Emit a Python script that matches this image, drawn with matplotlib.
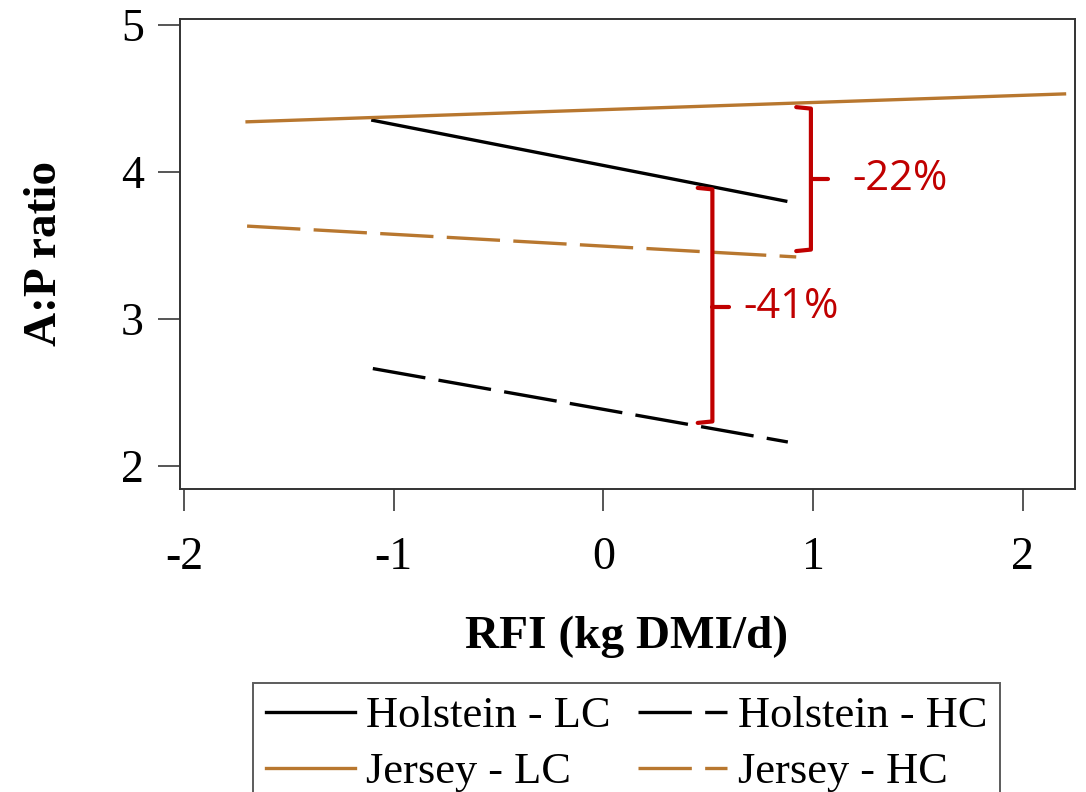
import numpy as np
import matplotlib
matplotlib.use("Agg")
import matplotlib.pyplot as plt

# RFI range and fitted A:P ratio at each end of the lines
hol_lc_x = [-1.1, 0.87]
hol_lc_y = [4.35, 3.80]
hol_hc_x = [-1.1, 0.88]
hol_hc_y = [2.66, 2.16]
jer_lc_x = [-1.7, 2.2]
jer_lc_y = [4.34, 4.53]
jer_hc_x = [-1.7, 0.92]
jer_hc_y = [3.63, 3.42]

# brackets: x, bottom, top, middle, label
brackets = [
    (0.99, 3.46, 4.44, 3.95, "-22%"),
    (0.52, 2.29, 3.89, 3.08, "-41%"),
]

xticks = [-2, -1, 0, 1, 2]
yticks = [2, 3, 4, 5]

brown = "#b8772f"
red = "#c00000"
serif = ["Liberation Serif", "DejaVu Serif"]

fig = plt.figure(figsize=(10.86, 7.92), dpi=100)
ax = fig.add_axes([180 / 1086, 1 - 489 / 792, 895 / 1086, 470 / 792])

lw = 2.4
dash = (0, (16, 4))
h1, = ax.plot(hol_lc_x, hol_lc_y, color="black", lw=lw, label="Holstein - LC")
h2, = ax.plot(hol_hc_x, hol_hc_y, color="black", lw=lw, ls=dash, label="Holstein - HC")
h3, = ax.plot(jer_lc_x, jer_lc_y, color=brown, lw=lw, label="Jersey - LC")
h4, = ax.plot(jer_hc_x, jer_hc_y, color=brown, lw=lw, ls=dash, label="Jersey - HC")

for bx, lo, hi, mid, txt in brackets:
    hook = 0.07
    nub = 0.08
    ax.plot([bx - hook, bx, bx, bx - hook], [lo, lo + 0.01, hi - 0.01, hi],
            color=red, lw=3, solid_joinstyle="round", solid_capstyle="round")
    ax.plot([bx, bx + nub], [mid, mid], color=red, lw=3, solid_capstyle="round")
    ax.text(bx + nub + 0.12 if txt == "-22%" else bx + nub + 0.07, mid, txt,
            color=red, fontsize=30, family=["Open Sans", "DejaVu Sans"],
            ha="left", va="center")

ax.set_xlim(-2.02, 2.25)
ax.set_ylim(1.84, 5.04)
ax.set_xticks(xticks)
ax.set_yticks(yticks)
ax.set_xticklabels([str(t) for t in xticks], family=serif, fontsize=33)
ax.set_yticklabels([str(t) for t in yticks], family=serif, fontsize=33)
ax.tick_params(axis="both", direction="out", length=16, width=1.4, color="#555555")
ax.tick_params(axis="x", pad=18)
ax.tick_params(axis="y", pad=10)
for s in ax.spines.values():
    s.set_linewidth(1.4)
    s.set_color("#333333")

fig.text(627 / 1086, 1 - 637 / 792, "RFI (kg DMI/d)", family=serif,
         fontsize=34, fontweight="bold", ha="center", va="center")
fig.text(45 / 1086, 1 - 253 / 792, "A:P ratio", family=serif,
         fontsize=34, fontweight="bold", ha="center", va="center", rotation=90)

leg = fig.legend([h1, h3, h2, h4], [h.get_label() for h in (h1, h3, h2, h4)],
                 loc="upper left", bbox_to_anchor=(253 / 1086, 1 - 683 / 792),
                 ncol=2, prop={"family": serif, "size": 32}, frameon=True,
                 fancybox=False, handlelength=2.0, handletextpad=0.25,
                 columnspacing=0.6, labelspacing=0.35, borderpad=0.3,
                 borderaxespad=0)
leg.get_frame().set_edgecolor("#333333")
leg.get_frame().set_linewidth(1.4)

fig.savefig("out.png", dpi=100)
